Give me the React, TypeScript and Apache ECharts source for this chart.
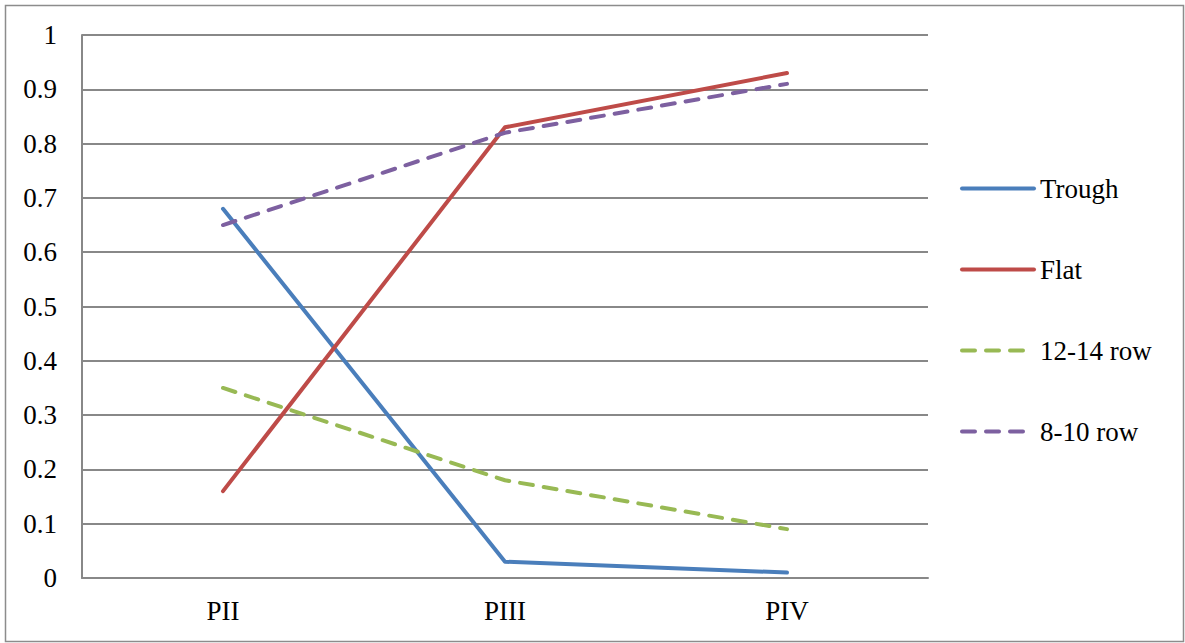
import React, { useEffect, useRef } from "react";
import * as echarts from "echarts";

const categories = ["PII", "PIII", "PIV"];
const trough = [0.68, 0.03, 0.01];
const flat = [0.16, 0.83, 0.93];
const row1214 = [0.35, 0.18, 0.09];
const row810 = [0.65, 0.82, 0.91];

const FONT = "Times New Roman, Liberation Serif, DejaVu Serif, serif";

export default function App() {
  const ref = useRef<HTMLDivElement>(null);
  useEffect(() => {
    document.body.style.margin = "0";
    const chart = echarts.init(ref.current!, null, { renderer: "svg" });
    const mk = (name: string, data: number[], color: string, dashed: boolean) => ({
      name,
      type: "line",
      data,
      symbol: "none",
      lineStyle: {
        color,
        width: 4,
        type: dashed ? [13, 11] : "solid",
        cap: "round",
        join: "round",
      },
      itemStyle: { color },
    });
    chart.setOption({
      animation: false,
      textStyle: { fontFamily: FONT },
      graphic: [
        {
          type: "rect",
          shape: { x: 5.5, y: 5.5, width: 1178, height: 636 },
          style: { fill: "none", stroke: "#8c8c8c", lineWidth: 1.5 },
          silent: true,
        },
      ],
      grid: { left: 82, top: 35, right: 257, bottom: 65, containLabel: false },
      legend: {
        orient: "vertical",
        left: 960,
        top: 175,
        padding: 0,
        itemWidth: 72,
        itemHeight: 28,
        itemGap: 54,
        itemStyle: { opacity: 0 },
        lineStyle: { width: 4, cap: "round" },
        textStyle: { fontFamily: FONT, fontSize: 27, color: "#000", padding: [0, 0, 0, 1] },
        data: ["Trough", "Flat", "12-14 row", "8-10 row"],
      },
      xAxis: {
        type: "category",
        data: categories,
        boundaryGap: true,
        axisLine: { lineStyle: { color: "#888", width: 2 } },
        axisTick: { show: false },
        axisLabel: { fontFamily: FONT, fontSize: 27, color: "#000", margin: 19 },
      },
      yAxis: {
        type: "value",
        min: 0,
        max: 1,
        interval: 0.1,
        axisLine: { show: true, lineStyle: { color: "#888", width: 2 } },
        axisTick: { show: false },
        splitLine: { lineStyle: { color: "#888", width: 2 } },
        axisLabel: {
          fontFamily: FONT,
          fontSize: 27,
          color: "#000",
          margin: 25,
          formatter: (v: number) => String(Math.round(v * 10) / 10),
        },
      },
      series: [
        mk("Trough", trough, "#4a7ebb", false),
        mk("Flat", flat, "#be4b48", false),
        mk("12-14 row", row1214, "#98b954", true),
        mk("8-10 row", row810, "#7d60a0", true),
      ],
    });
    return () => chart.dispose();
  }, []);
  return <div ref={ref} style={{ width: 1185, height: 643 }} />;
}
